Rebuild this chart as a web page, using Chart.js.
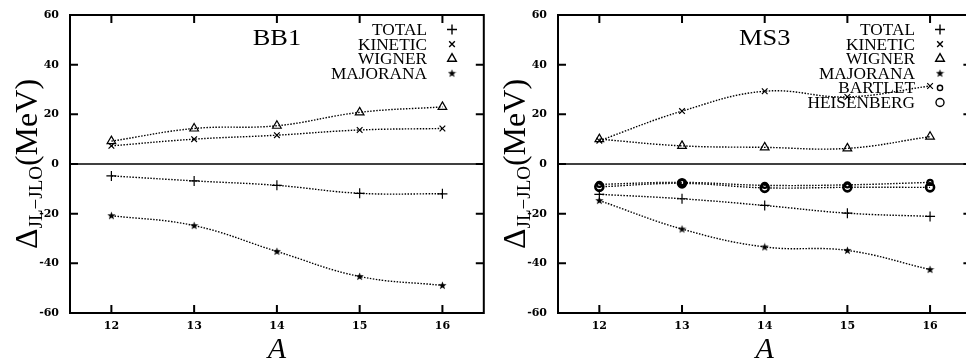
<!DOCTYPE html>
<html><head><meta charset="utf-8">
<script src="https://cdn.jsdelivr.net/npm/chart.js@4.4.1/dist/chart.umd.min.js"></script>
<style>
html,body{margin:0;padding:0;background:#fff;overflow:hidden;width:966px;height:360px;}
.panel{position:absolute;top:0;width:490px;height:360px;}
</style></head><body>
<div class="panel" style="left:0px"><canvas id="c1" width="490" height="360"></canvas></div>
<div class="panel" style="left:488px"><canvas id="c2" width="490" height="360"></canvas></div>
<script>
// ---- data ----
const massNumbers = [12, 13, 14, 15, 16];
const yTickValues = [-60, -40, -20, 0, 20, 40, 60];
const xRange = [11.5, 16.5];
const yRange = [-60, 60];

const bb1Total    = [-4.8, -6.8, -8.6, -11.8, -12.0];
const bb1Kinetic  = [7.3, 10.0, 11.6, 13.7, 14.3];
const bb1Wigner   = [9.2, 14.3, 15.4, 20.8, 23.0];
const bb1Majorana = [-20.8, -24.8, -35.2, -45.3, -48.9];

const ms3Total      = [-12.2, -14.0, -16.7, -19.8, -21.1];
const ms3Kinetic    = [9.4, 21.3, 29.3, 27.0, 31.4];
const ms3Wigner     = [10.0, 7.3, 6.7, 6.3, 11.0];
const ms3Majorana   = [-14.7, -26.2, -33.4, -34.8, -42.5];
const ms3Bartlet    = [-8.2, -7.4, -8.6, -8.4, -7.4];
const ms3Heisenberg = [-9.2, -7.8, -9.6, -9.4, -9.4];

// ---- styles ----
function makeStar() {
  const c = document.createElement('canvas');
  c.width = 9; c.height = 9;
  const g = c.getContext('2d');
  g.fillStyle = '#000';
  g.beginPath();
  for (let i = 0; i < 10; i++) {
    const r = i % 2 === 0 ? 4.3 : 1.8;
    const a = -Math.PI / 2 + i * Math.PI / 5;
    const px = 4.5 + r * Math.cos(a), py = 4.7 + r * Math.sin(a);
    if (i === 0) g.moveTo(px, py); else g.lineTo(px, py);
  }
  g.closePath(); g.fill();
  return c;
}
const starImg = makeStar();

const styles = {
  TOTAL:      {pointStyle: 'cross',    radius: 5,   bw: 1.2, fill: 'rgba(0,0,0,0)'},
  KINETIC:    {pointStyle: 'crossRot', radius: 4,   bw: 1.2, fill: 'rgba(0,0,0,0)'},
  WIGNER:     {pointStyle: 'triangle', radius: 5,   bw: 1.2, fill: 'rgba(0,0,0,0)'},
  MAJORANA:   {pointStyle: starImg,    radius: 4,   bw: 1,   fill: '#000'},
  BARTLET:    {pointStyle: 'circle',   radius: 2.6, bw: 2.2, fill: 'rgba(0,0,0,0)'},
  HEISENBERG: {pointStyle: 'circle',   radius: 4,   bw: 2.6, fill: 'rgba(0,0,0,0)'}
};

function ds(label, vals) {
  const s = styles[label];
  return {
    label,
    data: massNumbers.map((x, i) => ({x, y: vals[i]})),
    borderColor: '#000',
    borderWidth: 1.4,
    borderDash: [1.5, 1.5],
    tension: 0.4,
    pointStyle: s.pointStyle,
    pointRadius: s.radius,
    pointBorderWidth: s.bw,
    pointBorderColor: '#000',
    pointBackgroundColor: s.fill,
    fill: false
  };
}

const SERIF = '"Liberation Serif", "Times New Roman", serif';
const TICKFONT = {family: '"DejaVu Serif", serif', size: 11, weight: 'bold'};

const decorPlugin = {
  id: 'decor',
  beforeDatasetsDraw(chart) {
    const {ctx, chartArea: a, scales} = chart;
    const y0 = scales.y.getPixelForValue(0);
    ctx.save();
    ctx.strokeStyle = '#000';
    ctx.lineWidth = 1.4;
    ctx.beginPath(); ctx.moveTo(a.left, y0); ctx.lineTo(a.right, y0); ctx.stroke();
    // legend
    const tx = a.left + 357, mx = a.left + 382;
    ctx.font = '16px ' + SERIF;
    ctx.fillStyle = '#000';
    ctx.textAlign = 'right';
    ctx.textBaseline = 'alphabetic';
    chart.data.datasets.forEach((d, i) => {
      const cy = a.top + 14.5 + i * 14.6;
      ctx.save();
      ctx.translate(tx, cy + 5.5);
      ctx.scale(1.08, 1);
      ctx.fillText(d.label, 0, 0);
      ctx.restore();
      const s = styles[d.label];
      ctx.strokeStyle = '#000';
      ctx.fillStyle = s.fill;
      Chart.helpers.drawPoint(ctx, {pointStyle: s.pointStyle, radius: s.radius, borderWidth: s.bw, rotation: 0}, mx, cy);
      ctx.fillStyle = '#000';
    });
    ctx.restore();
  },
  afterDraw(chart) {
    const {ctx, chartArea: a, scales} = chart;
    ctx.save();
    ctx.strokeStyle = '#000';
    // ticks (inward)
    ctx.lineWidth = 2;
    const tl = 8;
    ctx.beginPath();
    yTickValues.forEach(v => {
      const p = scales.y.getPixelForValue(v);
      ctx.moveTo(a.left, p); ctx.lineTo(a.left + tl, p);
      ctx.moveTo(a.right, p); ctx.lineTo(a.right - tl, p);
    });
    massNumbers.forEach(v => {
      const p = scales.x.getPixelForValue(v);
      ctx.moveTo(p, a.bottom); ctx.lineTo(p, a.bottom - tl);
      ctx.moveTo(p, a.top); ctx.lineTo(p, a.top + tl);
    });
    ctx.stroke();
    // frame
    ctx.lineWidth = 2;
    ctx.strokeRect(a.left, a.top, a.right - a.left, a.bottom - a.top);
    // panel title
    const t = chart.options.plugins.panelTitle;
    ctx.fillStyle = '#000';
    ctx.font = '24px ' + SERIF;
    ctx.textAlign = 'center';
    ctx.textBaseline = 'alphabetic';
    ctx.save();
    ctx.translate((a.left + a.right) / 2, a.top + 30);
    ctx.scale(1.1, 1);
    ctx.fillText(t, 0, 0);
    ctx.restore();
    // x title
    ctx.font = 'italic 30px ' + SERIF;
    ctx.fillText('A', (a.left + a.right) / 2, 358);
    // y title: Δ_{JL−JLO}(MeV)
    ctx.save();
    ctx.translate(37, (a.top + a.bottom) / 2);
    ctx.rotate(-Math.PI / 2);
    const big = '32px ' + SERIF, small = '19px ' + SERIF;
    ctx.font = big; const w1 = ctx.measureText('Δ').width, w3 = ctx.measureText('(MeV)').width;
    ctx.font = small; const w2 = ctx.measureText('JL−JLO').width;
    let x = -(w1 + w2 + w3) / 2;
    ctx.textAlign = 'left';
    ctx.font = big; ctx.fillText('Δ', x, 0); x += w1;
    ctx.font = small; ctx.fillText('JL−JLO', x, 5); x += w2;
    ctx.font = big; ctx.fillText('(MeV)', x, 0);
    ctx.restore();
    ctx.restore();
  }
};

function makeChart(id, title, datasets) {
  return new Chart(document.getElementById(id), {
    type: 'line',
    data: {datasets},
    options: {
      responsive: false,
      animation: false,
      devicePixelRatio: 1,
      layout: {padding: {left: 0, right: 3, top: 15, bottom: 0}},
      plugins: {legend: {display: false}, tooltip: {enabled: false}, panelTitle: title},
      scales: {
        x: {
          type: 'linear', min: xRange[0], max: xRange[1],
          afterBuildTicks: s => { s.ticks = massNumbers.map(v => ({value: v})); },
          afterFit: s => { s.height = 47; s.paddingLeft = 0; s.paddingRight = 0; },
          grid: {display: false, drawTicks: false},
          border: {display: false},
          ticks: {padding: 7, color: '#000', font: TICKFONT, callback: v => String(v)}
        },
        y: {
          type: 'linear', min: yRange[0], max: yRange[1],
          afterBuildTicks: s => { s.ticks = yTickValues.map(v => ({value: v})); },
          afterFit: s => { s.width = 70; s.paddingTop = 0; s.paddingBottom = 0; },
          grid: {display: false, drawTicks: false},
          border: {display: false},
          ticks: {padding: 11, color: '#000', font: TICKFONT, callback: v => String(v)}
        }
      }
    },
    plugins: [decorPlugin]
  });
}

makeChart('c1', 'BB1', [
  ds('TOTAL', bb1Total), ds('KINETIC', bb1Kinetic), ds('WIGNER', bb1Wigner), ds('MAJORANA', bb1Majorana)
]);
makeChart('c2', 'MS3', [
  ds('TOTAL', ms3Total), ds('KINETIC', ms3Kinetic), ds('WIGNER', ms3Wigner), ds('MAJORANA', ms3Majorana),
  ds('BARTLET', ms3Bartlet), ds('HEISENBERG', ms3Heisenberg)
]);
</script>
</body></html>
